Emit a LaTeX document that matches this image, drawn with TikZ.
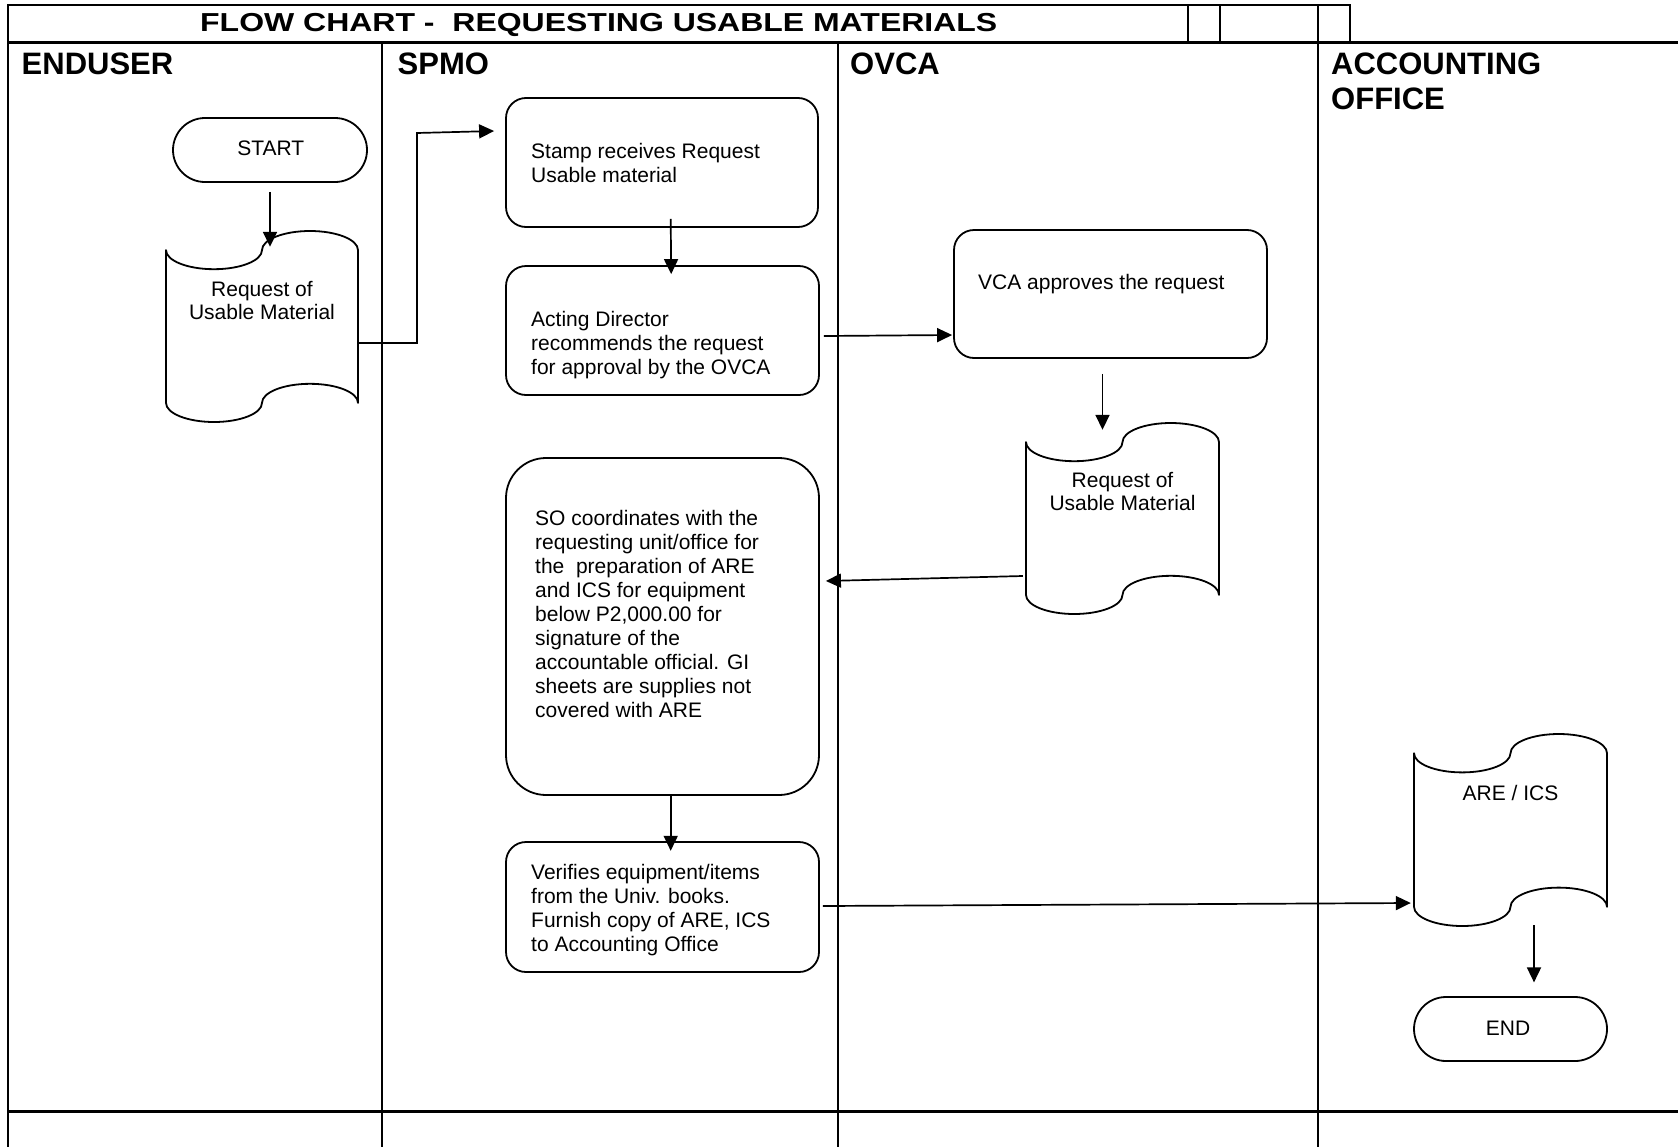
\documentclass[tikz,border=0pt]{standalone}
\usepackage{fontspec}
\setmainfont{Liberation Sans}
\usepackage{graphicx}
\usetikzlibrary{arrows.meta,calc}

% punched-tape document symbol: invisible node for anchors + wavy outline
% #1 name, #2 left, #3 top, #4 width, #5 height (y grows downward)
\newcommand\tapenode[5]{%
  \node[tapebox, minimum width=#4pt, minimum height=#5pt] (#1) at ({#2+#4/2},{#3+#5/2}) {};
  \pgfmathsetmacro\tpL{#2}\pgfmathsetmacro\tpT{#3}%
  \pgfmathsetmacro\tpW{#4}\pgfmathsetmacro\tpH{#5}%
  \pgfmathsetmacro\tpa{\tpH/10}\pgfmathsetmacro\tpq{\tpW/4}%
  \pgfmathsetmacro\tpka{0.5523*\tpa}\pgfmathsetmacro\tpkq{0.5523*\tpq}%
  \draw[shapeline]
    (\tpL,\tpT+\tpa)
    .. controls (\tpL,\tpT+\tpa+\tpka) and (\tpL+\tpq-\tpkq,\tpT+2*\tpa) .. (\tpL+\tpq,\tpT+2*\tpa)
    .. controls (\tpL+\tpq+\tpkq,\tpT+2*\tpa) and (\tpL+2*\tpq,\tpT+\tpa+\tpka) .. (\tpL+2*\tpq,\tpT+\tpa)
    .. controls (\tpL+2*\tpq,\tpT+\tpa-\tpka) and (\tpL+3*\tpq-\tpkq,\tpT) .. (\tpL+3*\tpq,\tpT)
    .. controls (\tpL+3*\tpq+\tpkq,\tpT) and (\tpL+\tpW,\tpT+\tpa-\tpka) .. (\tpL+\tpW,\tpT+\tpa)
    -- (\tpL+\tpW,\tpT+\tpH-\tpa)
    .. controls (\tpL+\tpW,\tpT+\tpH-\tpa-\tpka) and (\tpL+3*\tpq+\tpkq,\tpT+\tpH-2*\tpa) .. (\tpL+3*\tpq,\tpT+\tpH-2*\tpa)
    .. controls (\tpL+3*\tpq-\tpkq,\tpT+\tpH-2*\tpa) and (\tpL+2*\tpq,\tpT+\tpH-\tpa-\tpka) .. (\tpL+2*\tpq,\tpT+\tpH-\tpa)
    .. controls (\tpL+2*\tpq,\tpT+\tpH-\tpa+\tpka) and (\tpL+\tpq+\tpkq,\tpT+\tpH) .. (\tpL+\tpq,\tpT+\tpH)
    .. controls (\tpL+\tpq-\tpkq,\tpT+\tpH) and (\tpL,\tpT+\tpH-\tpa+\tpka) .. (\tpL,\tpT+\tpH-\tpa)
    -- cycle;}

\newcommand\bodyfont{\fontsize{21}{24}\selectfont}
\newcommand\docfont{\fontsize{21}{22.7}\selectfont}
\newcommand\headfont{\fontsize{31}{35}\selectfont\bfseries}

\begin{document}
\begin{tikzpicture}[x=1pt, y=-1pt,
  gridline/.style={line width=2pt, line cap=rect},
  titleline/.style={line width=2.6pt, line cap=rect},
  rowline/.style={line width=3pt},
  shapeline/.style={line width=1.8pt, line join=round},
  tapebox/.style={rectangle, draw=none, inner sep=0pt},
  procbox/.style={rectangle, draw, line width=1.8pt, rounded corners=20pt, inner sep=0pt},
  termbox/.style={rectangle, draw, line width=1.8pt, rounded corners=32pt, inner sep=0pt},
  txt/.style={inner sep=0pt, font=\bodyfont, align=left, anchor=base west},
  ctxt/.style={inner sep=0pt, font=\docfont, align=center, anchor=base},
  head/.style={inner sep=0pt, font=\headfont, align=left, anchor=base west},
  arr/.style={line width=1.7pt, -{Triangle[length=15pt,width=14pt]}}]

\useasboundingbox (0,0) rectangle (1678,1146);

% ---- swimlane frame ----
\draw[titleline] (8,1146) -- (8,5) -- (1350,5) -- (1350,42.5);
\draw[titleline] (8,42.5) -- (1678,42.5);
\draw[titleline] (1188,5) -- (1188,42.5);
\draw[titleline] (1220,5) -- (1220,42.5);
\draw[gridline] (1318,5) -- (1318,1146);
\draw[gridline] (382,42.5) -- (382,1146);
\draw[gridline] (838,42.5) -- (838,1146);
\draw[rowline] (8,1111) -- (1678,1111);

% ---- title and lane headings (multi-line nodes sit on their last baseline) ----
\node[inner sep=0pt, anchor=base west, font=\fontsize{26}{30}\selectfont\bfseries] (title) at (200,31.7)
  {\scalebox{1.23}[1]{FLOW CHART -\ \ REQUESTING USABLE MATERIALS}};
\node[head] (hEnd) at (21.5,74) {ENDUSER};
\node[head] (hSpmo) at (397.5,74) {SPMO};
\node[head] (hOvca) at (850,74) {OVCA};
\node[head] (hAcc) at (1331,109) {ACCOUNTING\\OFFICE};

% ---- enduser lane ----
\node[termbox, minimum width=194pt, minimum height=64pt] (start) at (270,150) {};
\node[ctxt] (startT) at (270.7,155) {START};
\tapenode{doc1}{166}{231}{192}{191}
\node[ctxt] (doc1T) at (262,319.4) {Request of\\Usable Material};

% ---- SPMO lane ----
\node[procbox, minimum width=312pt, minimum height=129pt] (box1) at (662,162.5) {};
\node[txt] (box1T) at (531,182) {Stamp receives Request\\Usable material};
\node[procbox, minimum width=313pt, minimum height=129pt] (box2) at (662.5,330.5) {};
\node[txt] (box2T) at (531,374.3) {Acting Director\\recommends the request\\for approval by the OVCA};
\node[procbox, rounded corners=40pt, minimum width=313pt, minimum height=337pt] (box4) at (662.5,626.5) {};
\node[txt] (box4T) at (535,717.7) {SO coordinates with the\\requesting unit/office for\\the\ \ preparation of ARE\\and ICS for equipment\\below P2,000.00 for\\signature of the\\accountable official. GI\\sheets are supplies not\\covered with ARE};
\node[procbox, minimum width=313pt, minimum height=130pt] (box5) at (662.5,907) {};
\node[txt] (box5T) at (531,951.3) {Verifies equipment/items\\from the Univ. books.\\Furnish copy of ARE, ICS\\to Accounting Office};

% ---- OVCA lane ----
\node[procbox, minimum width=313pt, minimum height=128pt] (box3) at (1110.5,294) {};
\node[txt] (box3T) at (978,289.3) {VCA approves the request};
\tapenode{doc2}{1026}{423}{193}{191}
\node[ctxt] (doc2T) at (1122.5,510.4) {Request of\\Usable Material};

% ---- accounting lane ----
\tapenode{doc3}{1414}{734}{193}{192}
\node[ctxt] (doc3T) at (1510.5,800) {ARE / ICS};
\node[termbox, minimum width=193pt, minimum height=64pt] (end) at (1510.5,1029) {};
\node[ctxt] (endT) at (1508,1035) {END};

% ---- connectors ----
\draw[arr] ([yshift=-9pt]start.south) -- ([yshift=-16pt]start.south |- doc1.north);
\coordinate (bendA) at (417,133);
\draw[arr] ([yshift=-16.5pt]doc1.east) -| (bendA) -- ([xshift=-11pt,yshift=31.5pt]box1.west);
\draw[arr] ([xshift=8.7pt,yshift=9pt]box1.south) -- ([xshift=8.7pt,yshift=-9pt]box2.north);
\draw[arr] ([xshift=4pt,yshift=-5.5pt]box2.east) -- ([xshift=-1pt,yshift=-41pt]box3.west);
\draw[arr] ([xshift=-8pt,yshift=-15pt]box3.south) -- ([xshift=-20pt,yshift=-7pt]doc2.north);
\draw[arr] ([xshift=-3pt,yshift=-57.5pt]doc2.west) -- ([xshift=6pt,yshift=45.5pt]box4.east);
\draw[arr] ([xshift=8.2pt]box4.south) -- ([xshift=8.2pt,yshift=-9.7pt]box5.north);
\draw[arr] ([xshift=3pt,yshift=1pt]box5.east) -- ([xshift=-3pt,yshift=-73pt]doc3.west);
\draw[arr] ([xshift=23.5pt,yshift=1pt]doc3.south) -- ([xshift=23.5pt,yshift=13.7pt]end.north);
\end{tikzpicture}
\end{document}
